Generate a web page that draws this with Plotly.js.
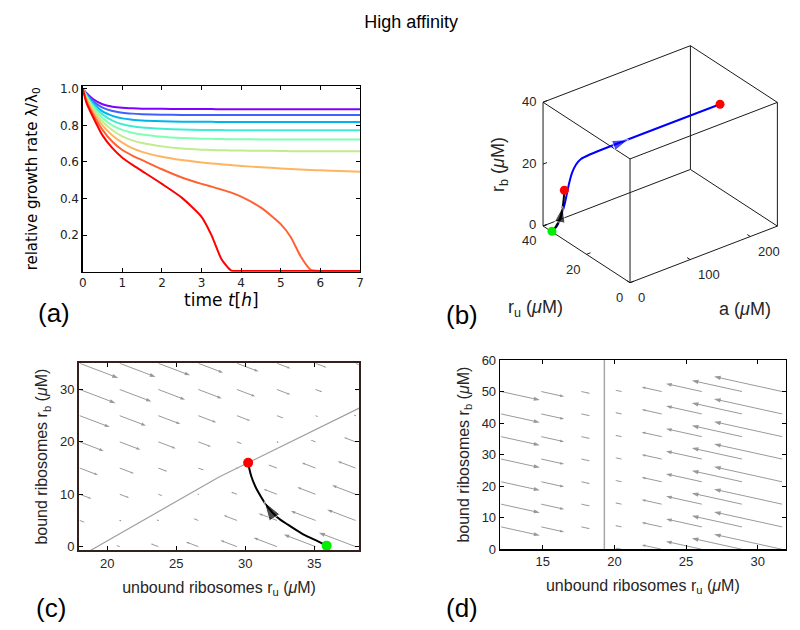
<!DOCTYPE html>
<html><head><meta charset="utf-8">
<script src="https://cdn.plot.ly/plotly-3.0.1.min.js"></script>
<style>html,body{margin:0;padding:0;background:#fff}#chart{width:800px;height:630px}</style>
</head><body><div id="chart"></div>
<script>
// ---------- panel (a): relative growth rate vs time ----------
const timeH = [0,0.1,0.25,0.5,0.75,1,1.25,1.5,2,2.5,3,3.25,3.5,3.75,4,4.5,5,5.25,5.5,5.75,6,6.5,7];
const rate1 = [1,0.975,0.945,0.915,0.902,0.896,0.893,0.891,0.89,0.889,0.889,0.889,0.888,0.888,0.888,0.888,0.888,0.888,0.888,0.888,0.888,0.888,0.888];
const rate2 = [1,0.97,0.935,0.897,0.878,0.869,0.864,0.861,0.858,0.857,0.857,0.856,0.856,0.856,0.856,0.856,0.856,0.856,0.856,0.856,0.856,0.856,0.856];
const rate3 = [1,0.965,0.925,0.876,0.852,0.838,0.831,0.826,0.822,0.82,0.819,0.819,0.818,0.818,0.818,0.818,0.818,0.818,0.818,0.818,0.818,0.818,0.818];
const rate4 = [1,0.96,0.915,0.86,0.826,0.806,0.795,0.788,0.781,0.777,0.775,0.774,0.774,0.773,0.773,0.773,0.773,0.773,0.773,0.773,0.773,0.773,0.773];
const rate5 = [1,0.955,0.905,0.84,0.8,0.775,0.76,0.75,0.738,0.731,0.727,0.726,0.725,0.724,0.724,0.723,0.722,0.722,0.722,0.722,0.722,0.722,0.722];
const rate6 = [1,0.95,0.895,0.82,0.773,0.74,0.718,0.703,0.685,0.673,0.667,0.665,0.664,0.663,0.662,0.661,0.66,0.659,0.659,0.658,0.658,0.658,0.658];
const rate7 = [1,0.94,0.88,0.8,0.745,0.705,0.675,0.655,0.628,0.61,0.597,0.592,0.587,0.583,0.578,0.571,0.564,0.561,0.558,0.556,0.554,0.55,0.546];
const rate8 = [1,0.93,0.865,0.775,0.71,0.665,0.635,0.61,0.56,0.515,0.48,0.465,0.449,0.432,0.41,0.35,0.26,0.19,0.085,0.012,0.004,0.004,0.004];
const rate9 = [1,0.92,0.85,0.745,0.675,0.623,0.585,0.55,0.48,0.405,0.3,0.2,0.07,0.006,0.004,0.004,0.004,0.004,0.004,0.004,0.004,0.004,0.004];
const rateSeries = [rate1,rate2,rate3,rate4,rate5,rate6,rate7,rate8,rate9];
const rateColors = ['#8000ff','#4062fa','#00b5eb','#40ecd4','#80ffb4','#bfec8e','#ffb462','#ff6232','#ff0000'];

// ---------- panel (b): 3D trajectory (a, r_u, r_b) ----------
const aRange  = [0,245];
const ruRange = [0,40];
const rbRange = [0,40];
const aTicks  = [0,100,200];
const ruTicks = [0,20,40];
const rbTicks = [0,20,40];
const blueA  = [0,4.3,8.0,10.7,12.8,14.3,16.4,19.1,23.9,30.5,42.5,240];
const blueRu = [35.9,35,34.5,34,33.5,33,32.5,32,31.5,31,30.5,25];
const blueRb = [0.19,1.76,3.9,6.6,9.4,12.5,16.1,19.3,21.9,23.5,24.2,28.3];

// ---------- panel (c): phase plane ----------
const trajRu = [35.9,35.06,34.08,33.12,32.27,31.61,31.14,30.74,30.45,30.29,30.21];
const trajRb = [0.19,1.28,2.55,4.14,5.73,7.63,9.54,11.44,13.35,14.95,16.02];
const nullcRu = [18.6,28.1,38.3];
const nullcRb = [-1.0,13.3,26.5];
const fieldCX = [18.0,20.9,23.7,26.6,29.4,32.3,35.1,38.0];
const fieldCY = [35,30,25,20,15,10,5,0];
const fieldCMag = [
  [2.8,2.6,2.3,1.8,1.57,0.97,0.8,0.35],
  [2.6,2.3,1.94,1.7,1.33,0.97,0.48,0.1],
  [2.18,1.9,1.6,1.3,0.97,0.48,0.2,-0.1],
  [1.74,1.5,1.26,0.92,0.36,0.1,-0.36,-0.85],
  [1.33,1.04,0.65,0.41,0.05,-0.63,-1.0,-1.3],
  [0.85,0.68,0.3,-0.05,-0.43,-0.97,-1.33,-1.7],
  [0.36,0.1,-0.1,-0.36,-0.97,-1.33,-1.8,-2.06],
  [-0.05,-0.25,-0.56,-0.9,-1.2,-1.7,-2.3,-2.66]
];

// ---------- panel (d): phase plane ----------
const fieldDX = [12.1,14.9,17.7,20.5,23.3,26.1,28.9,31.7];
const fieldDY = [0,7.1,14.3,21.4,28.6,35.7,42.9,50];
const fieldDMag = [2.7,1.6,0.6,-0.45,-1.4,-2.5,-3.5,-4.75];
const nullcDRu = [19.3,19.3];
const nullcDRb = [0,60];

// ---------- helpers ----------
const FONT = 'Liberation Sans, Arial, sans-serif';
function quiver(xs, ys, mags, xa, ya) {
  const x = [], y = [], sz = [];
  for (let r = 0; r < ys.length; r++) {
    for (let c = 0; c < xs.length; c++) {
      const m = Array.isArray(mags[0]) ? mags[r][c] : mags[c];
      x.push(xs[c], xs[c] + m, null);
      y.push(ys[r], ys[r] - m, null);
      sz.push(0, Math.min(7, 1.5 + Math.abs(m) * 1.8), 0);
    }
  }
  return {type:'scatter', mode:'lines+markers', x, y, xaxis:xa, yaxis:ya,
    line:{color:'#9a9a9a', width:1},
    marker:{symbol:'arrow', size:sz, angleref:'previous', color:'#6e6e6e', line:{width:0}},
    hoverinfo:'skip', showlegend:false};
}

// 3D -> 2D view projection (azimuth -37.5 deg, elevation 30 deg, box aspect 1.3:1:1)
const AZ = 37.5 * Math.PI / 180, EL = 30 * Math.PI / 180, BOXX = 1.3;
function proj(a, ru, rb) {
  const X = (a - aRange[0]) / (aRange[1] - aRange[0]) * BOXX;
  const Y = (ru - ruRange[0]) / (ruRange[1] - ruRange[0]);
  const Z = (rb - rbRange[0]) / (rbRange[1] - rbRange[0]);
  return [X * Math.cos(AZ) - Y * Math.sin(AZ), (X * Math.sin(AZ) + Y * Math.cos(AZ)) * Math.sin(EL) + Z * Math.cos(EL)];
}
function projLine(as, rus, rbs) {
  const x = [], y = [];
  for (let i = 0; i < as.length; i++) {
    if (as[i] === null) { x.push(null); y.push(null); continue; }
    const p = proj(as[i], rus[i], rbs[i]); x.push(p[0]); y.push(p[1]);
  }
  return {x, y};
}

const traces = [];
rateSeries.forEach((s, i) => traces.push({type:'scatter', mode:'lines', x:timeH, y:s,
  xaxis:'x', yaxis:'y', line:{color:rateColors[i], width:2, shape:'spline', smoothing:0.6}, showlegend:false}));

// (b) box edges
{
  const A = [], U = [], B = [];
  const ca = aRange, cu = ruRange, cb = rbRange;
  for (const u of cu) for (const b of cb) { A.push(ca[0], ca[1], null); U.push(u, u, null); B.push(b, b, null); }
  for (const a of ca) for (const b of cb) { A.push(a, a, null); U.push(cu[0], cu[1], null); B.push(b, b, null); }
  for (const a of ca) for (const u of cu) { A.push(a, a, null); U.push(u, u, null); B.push(cb[0], cb[1], null); }
  const tk = 0.035;
  for (const t of aTicks) { A.push(t, t, null); U.push(ruRange[0], ruRange[0] + tk * (ruRange[1]-ruRange[0]), null); B.push(rbRange[0], rbRange[0], null); }
  for (const t of ruTicks) { A.push(aRange[0], aRange[0] + tk * (aRange[1]-aRange[0]) / BOXX, null); U.push(t, t, null); B.push(rbRange[0], rbRange[0], null); }
  for (const t of rbTicks) { A.push(aRange[0], aRange[0] + tk * (aRange[1]-aRange[0]) / BOXX, null); U.push(ruRange[1], ruRange[1], null); B.push(t, t, null); }
  const p = projLine(A, U, B);
  traces.push({type:'scatter', mode:'lines', x:p.x, y:p.y, xaxis:'x4', yaxis:'y4',
    line:{color:'#1a1a1a', width:1}, hoverinfo:'skip', showlegend:false});
}
{
  const pb = projLine(blueA, blueRu, blueRb);
  traces.push({type:'scatter', mode:'lines', x:pb.x, y:pb.y, xaxis:'x4', yaxis:'y4',
    line:{color:'#0000ff', width:2, shape:'spline', smoothing:0.6}, showlegend:false});
  const pk = projLine(trajRu.map(() => aRange[0]), trajRu, trajRb);
  traces.push({type:'scatter', mode:'lines', x:pk.x, y:pk.y, xaxis:'x4', yaxis:'y4',
    line:{color:'#000', width:2, shape:'spline'}, showlegend:false});
  const nb = blueA.length, f = 0.3;
  const pArrB = projLine([blueA[nb-2], blueA[nb-2] + f*(blueA[nb-1]-blueA[nb-2])],
    [blueRu[nb-2], blueRu[nb-2] + f*(blueRu[nb-1]-blueRu[nb-2])],
    [blueRb[nb-2], blueRb[nb-2] + f*(blueRb[nb-1]-blueRb[nb-2])]);
  traces.push({type:'scatter', mode:'markers', x:pArrB.x, y:pArrB.y, xaxis:'x4', yaxis:'y4',
    marker:{symbol:'arrow', size:[0,17], angleref:'previous', color:'#0000ff'}, showlegend:false});
  const pArrK = projLine([aRange[0], aRange[0]], [trajRu[5], (trajRu[6]+trajRu[7])/2], [trajRb[5], (trajRb[6]+trajRb[7])/2]);
  traces.push({type:'scatter', mode:'markers', x:pArrK.x, y:pArrK.y, xaxis:'x4', yaxis:'y4',
    marker:{symbol:'arrow', size:[0,17], angleref:'previous', color:'#000'}, showlegend:false});
  const pPts = projLine([aRange[0], aRange[0], blueA[nb-1]],
    [trajRu[0], trajRu[trajRu.length-1], blueRu[nb-1]], [trajRb[0], trajRb[trajRb.length-1], blueRb[nb-1]]);
  traces.push({type:'scatter', mode:'markers', x:pPts.x, y:pPts.y, xaxis:'x4', yaxis:'y4',
    marker:{size:9, color:['#00ee00','#ff0000','#ff0000']}, cliponaxis:false, showlegend:false});
}

// (c)
traces.push(quiver(fieldCX, fieldCY, fieldCMag, 'x2', 'y2'));
traces.push({type:'scatter', mode:'lines', x:nullcRu, y:nullcRb, xaxis:'x2', yaxis:'y2',
  line:{color:'#a0a0a0', width:1.2}, showlegend:false});
traces.push({type:'scatter', mode:'lines', x:trajRu, y:trajRb, xaxis:'x2', yaxis:'y2',
  line:{color:'#000', width:2, shape:'spline'}, showlegend:false});
traces.push({type:'scatter', mode:'markers', xaxis:'x2', yaxis:'y2',
  x:[trajRu[5], (trajRu[5]+trajRu[6])/2], y:[trajRb[5], (trajRb[5]+trajRb[6])/2],
  marker:{symbol:'arrow', size:[0,20], angleref:'previous', color:'#000'}, showlegend:false});
traces.push({type:'scatter', mode:'markers', xaxis:'x2', yaxis:'y2',
  x:[trajRu[0], trajRu[trajRu.length-1]], y:[trajRb[0], trajRb[trajRb.length-1]],
  marker:{size:10, color:['#00ee00','#ff0000']}, cliponaxis:false, showlegend:false});

// (d)
traces.push(quiver(fieldDX, fieldDY, fieldDMag, 'x3', 'y3'));
traces.push({type:'scatter', mode:'lines', x:nullcDRu, y:nullcDRb, xaxis:'x3', yaxis:'y3',
  line:{color:'#a8a8a8', width:1.5}, showlegend:false});

const pAx = (ext) => Object.assign({showgrid:false, zeroline:false, showline:true, mirror:'ticks',
  ticks:'inside', ticklen:4, linecolor:'#000', linewidth:1.3, tickcolor:'#000',
  tickfont:{family:FONT, size:13, color:'#262626'}}, ext);

// 3D tick labels as annotations on the projected view
const ann3d = [];
const tf = {family:FONT, size:13, color:'#262626'};
for (const t of aTicks) { const p = proj(t, ruRange[0], rbRange[0]);
  ann3d.push({text:String(t), x:p[0], y:p[1], xref:'x4', yref:'y4', xanchor:'left', yanchor:'middle', xshift:6, yshift:-15, showarrow:false, font:tf}); }
for (const t of ruTicks) { const p = proj(aRange[0], t, rbRange[0]);
  ann3d.push({text:String(t), x:p[0], y:p[1], xref:'x4', yref:'y4', xanchor:'right', yanchor:'middle', xshift:-5, yshift:-15, showarrow:false, font:tf}); }
for (const t of rbTicks) { const p = proj(aRange[0], ruRange[1], t);
  ann3d.push({text:String(t), x:p[0], y:p[1], xref:'x4', yref:'y4', xanchor:'right', yanchor:'middle', xshift:-5, yshift:1, showarrow:false, font:tf}); }

const lbl = (text, px, py, size, ext) => Object.assign({text, x:px/800, y:1-py/630, xref:'paper', yref:'paper',
  xanchor:'center', yanchor:'middle', showarrow:false, font:{family:FONT, size, color:'#000'}}, ext || {});

const layout = {
  width:800, height:630, margin:{l:0, r:0, t:0, b:0}, paper_bgcolor:'#fff', plot_bgcolor:'rgba(0,0,0,0)',
  showlegend:false,
  title:{text:'High affinity', x:0.514, xanchor:'center', y:0.965, yanchor:'middle',
    font:{family:FONT, size:18, color:'#000'}},
  xaxis: pAx({domain:[0.1034,0.45], range:[0,7], tickvals:[0,1,2,3,4,5,6,7],
    tickfont:{family:'DejaVu Sans', size:12, color:'#222'},
    title:{text:'time <i>t</i>[<i>h</i>]', font:{family:'DejaVu Sans', size:17, color:'#000'}, standoff:0}}),
  yaxis: pAx({domain:[0.5687,0.8635], range:[0,1.015], tickvals:[0.2,0.4,0.6,0.8,1.0],
    ticktext:['0.2','0.4','0.6','0.8','1.0'],
    tickfont:{family:'DejaVu Sans', size:12, color:'#222'},
    title:{text:'relative growth rate λ/λ<sub>0</sub>', font:{family:'DejaVu Sans', size:15, color:'#000'}, standoff:18}}),
  xaxis2: pAx({domain:[0.0988,0.4488], range:[17.95,38.25], tickvals:[20,25,30,35], anchor:'y2',
    linecolor:'#33201f', linewidth:2,
    title:{text:'unbound ribosomes r<sub>u</sub> (<i>μ</i>M)', font:{family:FONT, size:16, color:'#262626'}, standoff:12}}),
  yaxis2: pAx({domain:[0.127,0.4233], range:[-0.64,35], tickvals:[0,10,20,30], anchor:'x2',
    linecolor:'#33201f', linewidth:2,
    title:{text:'bound ribosomes r<sub>b</sub> (<i>μ</i>M)', font:{family:FONT, size:16, color:'#262626'}, standoff:8}}),
  xaxis3: pAx({domain:[0.625,0.9821], range:[12.02,31.95], tickvals:[15,20,25,30], anchor:'y3',
    title:{text:'unbound ribosomes r<sub>u</sub> (<i>μ</i>M)', font:{family:FONT, size:16, color:'#262626'}, standoff:11}}),
  yaxis3: pAx({domain:[0.1281,0.4286], range:[0,60], tickvals:[0,10,20,30,40,50,60], anchor:'x3',
    title:{text:'bound ribosomes r<sub>b</sub> (<i>μ</i>M)', font:{family:FONT, size:16, color:'#262626'}, standoff:8}}),
  xaxis4: {domain:[530/800, 787.2/800], range:[-0.7,1.1], visible:false, anchor:'y4'},
  yaxis4: {domain:[1-318.4/630, 1-32.6/630], range:[-0.25,1.75], visible:false, anchor:'x4'},
  annotations:[
    lbl('(a)', 54, 313, 26),
    lbl('(b)', 462, 315, 26),
    lbl('(c)', 51, 608, 26),
    lbl('(d)', 462, 608, 26),
    lbl('r<sub>b</sub> (<i>μ</i>M)', 500, 165, 18, {textangle:-90, font:{family:FONT, size:18, color:'#262626'}}),
    lbl('r<sub>u</sub> (<i>μ</i>M)', 535, 308, 18, {font:{family:FONT, size:18, color:'#262626'}}),
    lbl('a (<i>μ</i>M)', 745, 309, 18, {font:{family:FONT, size:18, color:'#262626'}})
  ].concat(ann3d)
};
Plotly.newPlot('chart', traces, layout, {displayModeBar:false, staticPlot:true});
</script></body></html>
